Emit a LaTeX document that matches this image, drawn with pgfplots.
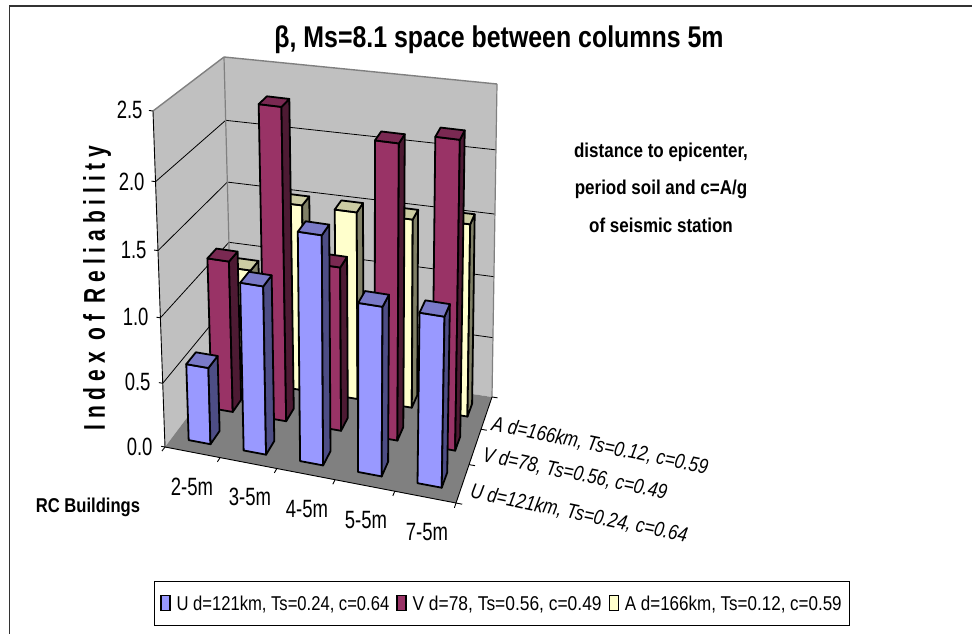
\documentclass[border=0pt]{standalone}
\usepackage{pgfplots}
\pgfplotsset{compat=1.18}
\usepackage{fontspec}
\setmainfont{Liberation Sans}
\definecolor{uF}{HTML}{9999FF}\definecolor{uT}{HTML}{7A7AC8}\definecolor{uS}{HTML}{4D4D85}
\definecolor{vF}{HTML}{993366}\definecolor{vT}{HTML}{7A2952}\definecolor{vS}{HTML}{4D1A33}
\definecolor{aF}{HTML}{FFFFCC}\definecolor{aT}{HTML}{CCCCA3}\definecolor{aS}{HTML}{808066}
\definecolor{wall}{HTML}{C0C0C0}\definecolor{flr}{HTML}{808080}
% --- view of the 3-D chart: category position u (0..5), series position v (0..3), value w (0..2.5)
\newcommand{\getpt}[4]{% name, u, v, w
  \pgfmathsetmacro{\tu}{(#2)/5}\pgfmathsetmacro{\tv}{(#3)/3}\pgfmathsetmacro{\tw}{(#4)/2.5}%
  \pgfmathsetmacro{\su}{\tu*(1-0.065*(1-\tu))}%
  \pgfmathsetmacro{\sv}{\tv*(1+0.13*(1-\tv))}%
  \pgfmathsetmacro{\sw}{\tw*(1-0.065*(1-\tw))}%
  \pgfmathsetmacro{\xbot}{(1-\sv)*((1-\su)*165+\su*456)+\sv*((1-\su)*232+\su*492)}%
  \pgfmathsetmacro{\xtop}{(1-\sv)*((1-\su)*153+\su*463)+\sv*((1-\su)*224+\su*497)}%
  \pgfmathsetmacro{\ybot}{(1-\sv)*((1-\su)*447+\su*503)+\sv*((1-\su)*358+\su*397)}%
  \pgfmathsetmacro{\ytop}{(1-\sv)*((1-\su)*111+\su*153)+\sv*((1-\su)*57+\su*84)}%
  \pgfmathsetmacro{\resx}{(1-\sw)*\xbot+\sw*\xtop}%
  \pgfmathsetmacro{\resy}{(1-\sw)*\ybot+\sw*\ytop}%
  \expandafter\let\csname #1x\endcsname\resx
  \expandafter\let\csname #1y\endcsname\resy
}
\newcommand{\face}[5]{% style, four corner names
  \edef\tmp{\noexpand\addplot[#1] coordinates {(\csname #2x\endcsname,\csname #2y\endcsname)(\csname #3x\endcsname,\csname #3y\endcsname)(\csname #4x\endcsname,\csname #4y\endcsname)(\csname #5x\endcsname,\csname #5y\endcsname)} -- cycle;}\tmp}
\newcommand{\barc}[4]{% category index, series index, value, colour prefix
  \pgfmathsetmacro{\ul}{#1+0.3}\pgfmathsetmacro{\ur}{#1+0.7}%
  \pgfmathsetmacro{\vf}{#2+0.3}\pgfmathsetmacro{\vb}{#2+0.7}%
  \getpt{A}{\ul}{\vf}{0}\getpt{B}{\ur}{\vf}{0}\getpt{C}{\ur}{\vb}{0}%
  \getpt{D}{\ul}{\vf}{#3}\getpt{E}{\ur}{\vf}{#3}\getpt{F}{\ur}{\vb}{#3}\getpt{G}{\ul}{\vb}{#3}%
  \face{draw=black,line width=1.8pt,line join=round,fill=#4F,forget plot}{A}{B}{E}{D}%
  \face{draw=black,line width=1.8pt,line join=round,fill=#4S,forget plot}{B}{C}{F}{E}%
  \face{draw=black,line width=1.8pt,line join=round,fill=#4T,forget plot}{D}{E}{F}{G}%
}
\newcommand{\seg}[7]{% style, start, end
  \getpt{P}{#2}{#3}{#4}\getpt{Q}{#5}{#6}{#7}%
  \edef\tmp{\noexpand\addplot[#1,forget plot] coordinates {(\Px,\Py)(\Qx,\Qy)};}\tmp}
\newcommand{\tl}[4]{\node[anchor=#1,font=\fontsize{25}{25}\selectfont] at (axis cs:#2,#3) {\scalebox{0.74}[1]{#4}};}
\newcommand{\dl}[3]{\node[rotate=-11.6,font=\itshape\fontsize{21}{21}\selectfont] at (axis cs:#1,#2) {\scalebox{0.82}[1]{#3}};}
\newcommand{\an}[2]{\node[font=\bfseries\fontsize{20}{20}\selectfont] at (axis cs:661,#1) {\scalebox{0.85}[1]{#2}};}
\begin{document}
\begin{tikzpicture}
\path[use as bounding box] (0,0) rectangle (972pt,634pt);
\begin{axis}[
  at={(0,0)},anchor=south west,
  scale only axis,width=972pt,height=634pt,
  xmin=0,xmax=972,ymin=0,ymax=634,y dir=reverse,
  hide axis,clip=true,
  legend cell align=left,
  legend columns=-1,
  legend style={at={(axis cs:154,603.5)},anchor=west,draw=black,line width=0.8pt,fill=white,
    font=\fontsize{20}{20}\selectfont,inner xsep=6pt,inner ysep=12pt,
    /tikz/every even column/.append style={column sep=5pt}},
]
% frame
\addplot[black!80,line width=1.6pt,forget plot] coordinates {(9.5,634)(9.5,6)(972,6)};
% walls and floor
\getpt{a}{0}{0}{0}\getpt{b}{5}{0}{0}\getpt{c}{5}{3}{0}\getpt{d}{0}{3}{0}
\getpt{e}{0}{0}{2.5}\getpt{f}{0}{3}{2.5}\getpt{g}{5}{3}{2.5}
\face{draw=none,fill=wall,forget plot}{a}{d}{f}{e}
\face{draw=none,fill=wall,forget plot}{d}{c}{g}{f}
\face{draw=none,fill=flr,forget plot}{a}{b}{c}{d}
% grid
\seg{black,line width=0.8pt}{0}{0}{0.5}{0}{3}{0.5}\seg{black,line width=0.8pt}{0}{3}{0.5}{5}{3}{0.5}
\seg{black,line width=0.8pt}{0}{0}{1.0}{0}{3}{1.0}\seg{black,line width=0.8pt}{0}{3}{1.0}{5}{3}{1.0}
\seg{black,line width=0.8pt}{0}{0}{1.5}{0}{3}{1.5}\seg{black,line width=0.8pt}{0}{3}{1.5}{5}{3}{1.5}
\seg{black,line width=0.8pt}{0}{0}{2.0}{0}{3}{2.0}\seg{black,line width=0.8pt}{0}{3}{2.0}{5}{3}{2.0}
% wall edges
\seg{flr,line width=1.4pt}{0}{0}{2.5}{0}{3}{2.5}\seg{flr,line width=1.4pt}{0}{3}{2.5}{5}{3}{2.5}
\seg{flr,line width=1.2pt}{0}{3}{0}{0}{3}{2.5}\seg{flr,line width=1.2pt}{5}{3}{0}{5}{3}{2.5}
% axes lines and ticks
\seg{black,line width=0.9pt}{0}{0}{0}{0}{0}{2.5}
\seg{black,line width=0.9pt}{0}{0}{0}{5}{0}{0}
\seg{black,line width=0.9pt}{5}{0}{0}{5}{3}{0}
\seg{black,line width=0.9pt}{-0.07}{0}{0}{0}{0}{0}
\seg{black,line width=0.9pt}{-0.07}{0}{0.5}{0}{0}{0.5}
\seg{black,line width=0.9pt}{-0.07}{0}{1.0}{0}{0}{1.0}
\seg{black,line width=0.9pt}{-0.07}{0}{1.5}{0}{0}{1.5}
\seg{black,line width=0.9pt}{-0.07}{0}{2.0}{0}{0}{2.0}
\seg{black,line width=0.9pt}{-0.07}{0}{2.5}{0}{0}{2.5}
\seg{black,line width=0.9pt}{0}{0}{0}{0}{-0.12}{0}
\seg{black,line width=0.9pt}{1}{0}{0}{1}{-0.12}{0}
\seg{black,line width=0.9pt}{2}{0}{0}{2}{-0.12}{0}
\seg{black,line width=0.9pt}{3}{0}{0}{3}{-0.12}{0}
\seg{black,line width=0.9pt}{4}{0}{0}{4}{-0.12}{0}
\seg{black,line width=0.9pt}{5}{0}{0}{5}{-0.12}{0}
\seg{black,line width=0.9pt}{5}{0}{0}{5.1}{0}{0}
\seg{black,line width=0.9pt}{5}{1}{0}{5.1}{1}{0}
\seg{black,line width=0.9pt}{5}{2}{0}{5.1}{2}{0}
\seg{black,line width=0.9pt}{5}{3}{0}{5.1}{3}{0}
% bars: category, series (0 = U, 1 = V, 2 = A), value
\barc{0}{2}{0.94}{a}\barc{1}{2}{1.52}{a}\barc{2}{2}{1.52}{a}\barc{3}{2}{1.52}{a}\barc{4}{2}{1.54}{a}
\barc{0}{1}{1.21}{v}\barc{1}{1}{2.43}{v}\barc{2}{1}{1.29}{v}\barc{3}{1}{2.27}{v}\barc{4}{1}{2.35}{v}
\barc{0}{0}{0.60}{u}\barc{1}{0}{1.29}{u}\barc{2}{0}{1.73}{u}\barc{3}{0}{1.28}{u}\barc{4}{0}{1.28}{u}
% text
\node[anchor=center,font=\bfseries\fontsize{30}{30}\selectfont] at (axis cs:499,40) {\scalebox{0.83}[1]{β, Ms=8.1 space between columns 5m}};
\tl{east}{146}{110}{2.5}
\tl{east}{148}{182}{2.0}
\tl{east}{150}{250}{1.5}
\tl{east}{152}{317}{1.0}
\tl{east}{154}{382}{0.5}
\tl{east}{156}{447}{0.0}
\tl{center}{192}{487}{2-5m}
\tl{center}{250}{497}{3-5m}
\tl{center}{307}{509}{4-5m}
\tl{center}{366}{520}{5-5m}
\tl{center}{427}{532}{7-5m}
\dl{600}{446}{A d=166km, Ts=0.12, c=0.59}
\dl{575}{474}{V d=78, Ts=0.56, c=0.49}
\dl{579}{514}{U d=121km, Ts=0.24, c=0.64}
\node[rotate=90,font=\bfseries\fontsize{30}{30}\selectfont] at (axis cs:97,288) {\scalebox{0.7}[1]{I n d e x\ \ o f\ \ R e l i a b i l i t y}};
\an{152}{distance to epicenter,}
\an{189}{period soil and c=A/g}
\an{225}{of seismic station}
\node[font=\bfseries\fontsize{20}{20}\selectfont] at (axis cs:88,507) {\scalebox{0.83}[1]{RC Buildings}};
% legend
\addlegendimage{legend image code/.code={\draw[black,line width=1.2pt,fill=uF] (0pt,-7pt) rectangle (9pt,8pt);}}
\addlegendentry{\hspace{4pt}\scalebox{0.83}[1]{U d=121km, Ts=0.24, c=0.64}}
\addlegendimage{legend image code/.code={\draw[black,line width=1.2pt,fill=vF] (0pt,-7pt) rectangle (9pt,8pt);}}
\addlegendentry{\hspace{4pt}\scalebox{0.87}[1]{V d=78, Ts=0.56, c=0.49}}
\addlegendimage{legend image code/.code={\draw[black,line width=1.2pt,fill=aF] (0pt,-7pt) rectangle (9pt,8pt);}}
\addlegendentry{\hspace{4pt}\scalebox{0.85}[1]{A d=166km, Ts=0.12, c=0.59}}
\end{axis}
\end{tikzpicture}
\end{document}
